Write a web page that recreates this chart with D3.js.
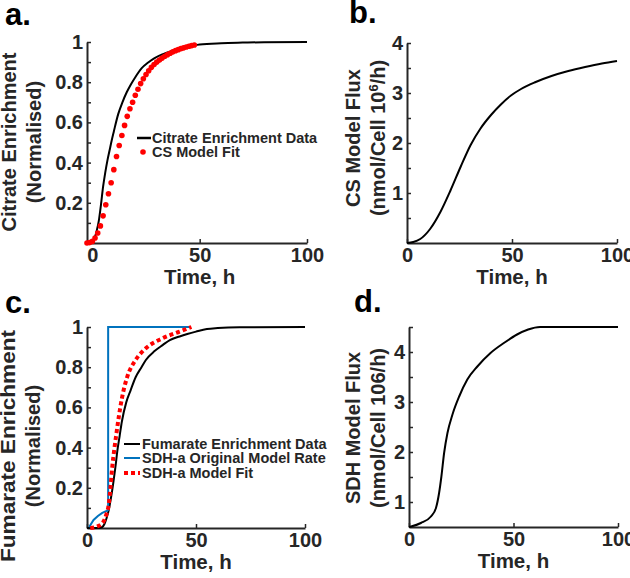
<!DOCTYPE html>
<html><head><meta charset="utf-8">
<script src="https://cdn.jsdelivr.net/npm/d3@7"></script>
<style>html,body{margin:0;padding:0;background:#fff;}svg{display:block;}</style>
</head><body>
<script>
// ---------- DATA ----------
// Panel a
const citrateT = [-2.5,-1,0,1,2,3,4,5,6,7,8,9,10,12,14,16,18,20,23,26,29,33,37,42,47,50,60,70,80,100];
const citrateV = [0,0.003,0.008,0.025,0.06,0.11,0.19,0.28,0.35,0.41,0.46,0.51,0.555,0.64,0.70,0.75,0.79,0.825,0.87,0.898,0.92,0.94,0.955,0.972,0.982,0.987,0.994,0.997,0.999,1];
const csFitT = [-2.5,-1.25,0,1.25,2.5,3.75,5,6.25,7.5,8.75,10,11.25,12.5,13.75,15,16.25,17.5,18.75,20,21.25,22.5,23.75,25,26.25,27.5,28.75,30,31.25,32.5,33.75,35,36.25,37.5,38.75,40,41.25,42.5,43.75,45,46.25,47.5];
const csFitV = [0,0.002,0.008,0.025,0.05,0.085,0.135,0.19,0.245,0.30,0.365,0.43,0.485,0.535,0.585,0.63,0.668,0.70,0.735,0.765,0.793,0.817,0.838,0.857,0.874,0.888,0.90,0.91,0.92,0.929,0.937,0.944,0.951,0.957,0.962,0.967,0.971,0.975,0.979,0.982,0.985];
// Panel b
const csFluxT = [0,3,6.3,11,15.9,20.7,25.5,30.3,35,40,44.7,49.5,54.3,60.7,68.8,76.8,84.8,92.8,100];
const csFluxV = [0,0.02,0.08,0.28,0.62,1.05,1.52,1.96,2.29,2.56,2.77,2.95,3.08,3.21,3.34,3.44,3.52,3.59,3.64];
// Panel c
const fumT = [0,5,7,8,9,10,11,12,13,14,15,16,18,20,22.3,25,27,31,34.7,38,42.5,46,50,55,60,70,100];
const fumV = [0,0,0.005,0.02,0.05,0.09,0.15,0.22,0.30,0.39,0.46,0.53,0.625,0.685,0.75,0.80,0.836,0.88,0.91,0.935,0.953,0.965,0.977,0.99,0.995,0.999,1];
const sdhOrigT = [1,3,5,7,9,9.7,9.7,47];
const sdhOrigV = [0.005,0.04,0.06,0.075,0.085,0.09,1,1];
const sdhFitT = [1.5,4.6,7,8.8,10,10.8,11.6,12.5,13.5,14.6,16.1,18.4,22.3,27,34.7,42.5,47.9];
const sdhFitV = [0,0.007,0.023,0.065,0.12,0.205,0.305,0.39,0.47,0.554,0.65,0.75,0.836,0.894,0.944,0.977,1.0];
// Panel d
const sdhFluxT = [0,1,5.7,10.5,12.9,14.4,15.5,16.8,18.4,20.8,24,27.9,32.7,39,45.4,51.7,57,62.7,70,100];
const sdhFluxV = [0.5,0.51,0.58,0.71,0.88,1.18,1.51,1.98,2.38,2.75,3.11,3.45,3.71,3.98,4.18,4.35,4.45,4.5,4.5,4.5];
// Ticks
const xTicks = [0,50,100];
const normYTicks = [0.1,0.2,0.3,0.4,0.5,0.6,0.7,0.8,0.9,1];
const normYLabels = [0.2,0.4,0.6,0.8,1];
const bYTicks = [0.5,1,1.5,2,2.5,3,3.5,4];
const dYTicks = [1,1.5,2,2.5,3,3.5,4,4.5];
const fluxYLabels = [1,2,3,4];

// ---------- DRAW ----------
const W = 630, H = 578;
const AX = "#262626";
const FONT = "'Liberation Sans', Arial, Helvetica, sans-serif";
const svg = d3.select("body").append("svg").attr("width", W).attr("height", H)
  .style("font-family", FONT);

function panel(o) {
  const g = svg.append("g");
  const x = d3.scaleLinear().domain(o.xd).range(o.xr);
  const y = d3.scaleLinear().domain(o.yd).range(o.yr);
  const fmt = d => o.yLabels.includes(+d.toFixed(2)) ? d3.format("~g")(d) : "";
  const ya = g.append("g").attr("transform", `translate(${o.xr[0]},0)`)
    .call(d3.axisLeft(y).tickValues(o.yTicks).tickFormat(fmt).tickSizeInner(-4).tickSizeOuter(0).tickPadding(4));
  const xa = g.append("g").attr("transform", `translate(0,${o.yr[0]})`)
    .call(d3.axisBottom(x).tickValues(xTicks).tickFormat(d3.format("d")).tickSizeInner(-4).tickSizeOuter(0).tickPadding(5));
  [ya, xa].forEach(a => {
    a.select(".domain").attr("stroke", AX).attr("stroke-width", 2);
    a.selectAll(".tick line").attr("stroke", AX).attr("stroke-width", 1.5);
    a.selectAll(".tick text").attr("fill", AX).attr("font-size", 20).attr("font-weight", "bold").attr("font-family", FONT);
  });
  // x title
  g.append("text").attr("x", x(50)).attr("y", o.yr[0] + 41).attr("text-anchor", "middle")
    .attr("font-size", 20.5).attr("font-weight", "bold").attr("fill", AX).text("Time, h");
  // y title (two lines)
  o.yTitle.forEach((t, i) => {
    const tx = g.append("text").attr("transform", `translate(${o.yTitleX[i]},${o.yTitleY}) rotate(-90)`)
      .attr("text-anchor", "middle").attr("font-size", 20).attr("font-weight", "bold").attr("fill", AX);
    if (o.yTitleLen && o.yTitleLen[i]) tx.attr("textLength", o.yTitleLen[i]).attr("lengthAdjust", "spacingAndGlyphs");
    if (Array.isArray(t)) {
      t.forEach(p => tx.append("tspan").attr("baseline-shift", p.sup ? "super" : null)
        .attr("font-size", p.sup ? 13 : null).text(p.s));
    } else tx.text(t);
  });
  // panel letter
  svg.append("text").attr("x", o.letterXY[0]).attr("y", o.letterXY[1]).attr("font-size", 31)
    .attr("font-weight", "bold").attr("fill", "#000").text(o.letter);
  return {g, x, y};
}

function line(p, T, V, curve) {
  return d3.line().x((d, i) => p.x(T[i])).y((d, i) => p.y(V[i])).curve(curve || d3.curveMonotoneX)(T);
}

// Panel a
const pa = panel({xd: [-2.5, 100], xr: [87, 307], yd: [0, 1], yr: [243, 42],
  yTicks: normYTicks, yLabels: normYLabels,
  yTitle: ["Citrate Enrichment", "(Normalised)"], yTitleX: [16, 41], yTitleY: 142,
  letter: "a.", letterXY: [5, 25]});
pa.g.append("path").attr("d", line(pa, citrateT, citrateV)).attr("fill", "none").attr("stroke", "#000").attr("stroke-width", 2);
pa.g.selectAll("circle.fit").data(csFitT).join("circle").attr("class", "fit")
  .attr("cx", d => pa.x(d)).attr("cy", (d, i) => pa.y(csFitV[i])).attr("r", 2.8).attr("fill", "#ff0000");
// legend a
pa.g.append("line").attr("x1", 137).attr("x2", 151).attr("y1", 138).attr("y2", 138).attr("stroke", "#000").attr("stroke-width", 2.5);
pa.g.append("circle").attr("cx", 143).attr("cy", 152).attr("r", 2.8).attr("fill", "#ff0000");
[["Citrate Enrichment Data", 138], ["CS Model Fit", 152]].forEach(([t, yy]) =>
  pa.g.append("text").attr("x", 152).attr("y", yy).attr("dy", "0.36em").attr("font-size", 14.5)
    .attr("font-weight", "bold").attr("fill", AX).text(t));

// Panel b
const pb = panel({xd: [0, 100], xr: [407, 617], yd: [0, 4], yr: [243, 43],
  yTicks: bYTicks, yLabels: fluxYLabels,
  yTitle: ["CS Model Flux", [{s: "(nmol/Cell 10"}, {s: "6", sup: true}, {s: "/h)"}]], yTitleX: [360, 385], yTitleY: 138,
  letter: "b.", letterXY: [349, 23]});
pb.g.append("path").attr("d", line(pb, csFluxT, csFluxV)).attr("fill", "none").attr("stroke", "#000").attr("stroke-width", 2);

// Panel c
const pc = panel({xd: [0, 100], xr: [87, 305], yd: [0, 1], yr: [528, 327],
  yTicks: normYTicks, yLabels: normYLabels,
  yTitle: ["Fumarate Enrichment", "(Normalised)"], yTitleX: [15, 40], yTitleY: 446, yTitleLen: [232, null],
  letter: "c.", letterXY: [5, 313]});
pc.g.append("path").attr("d", line(pc, fumT, fumV)).attr("fill", "none").attr("stroke", "#000").attr("stroke-width", 2);
pc.g.append("path").attr("d", line(pc, sdhOrigT, sdhOrigV, d3.curveLinear)).attr("fill", "none").attr("stroke", "#0072BD").attr("stroke-width", 2);
pc.g.append("path").attr("d", line(pc, sdhFitT, sdhFitV)).attr("fill", "none").attr("stroke", "#ff0000").attr("stroke-width", 4).attr("stroke-dasharray", "4,3");
// legend c
const legC = [["Fumarate Enrichment Data", 444, "#000", null, 2], ["SDH-a Original Model Rate", 458, "#0072BD", null, 2], ["SDH-a Model Fit", 473, "#ff0000", "4,3", 4]];
legC.forEach(([t, yy, c, da, w]) => {
  pc.g.append("line").attr("x1", 124).attr("x2", 140).attr("y1", yy).attr("y2", yy).attr("stroke", c).attr("stroke-width", w).attr("stroke-dasharray", da);
  pc.g.append("text").attr("x", 142).attr("y", yy).attr("dy", "0.36em").attr("font-size", 14.5)
    .attr("font-weight", "bold").attr("fill", AX).text(t);
});

// Panel d
const pd = panel({xd: [0, 100], xr: [409, 618], yd: [0.5, 4.5], yr: [527, 327],
  yTicks: dYTicks, yLabels: fluxYLabels,
  yTitle: ["SDH Model Flux", "(nmol/Cell 106/h)"], yTitleX: [360, 385], yTitleY: 428,
  letter: "d.", letterXY: [354, 312]});
pd.g.append("path").attr("d", line(pd, sdhFluxT, sdhFluxV)).attr("fill", "none").attr("stroke", "#000").attr("stroke-width", 2);
</script>
</body></html>
